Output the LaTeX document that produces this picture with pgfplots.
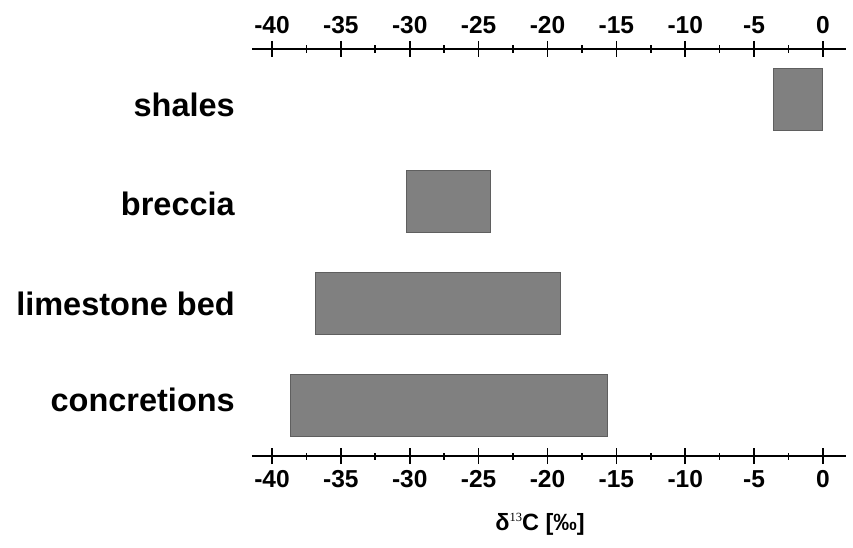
\documentclass[border=0pt]{standalone}
\usepackage{pgfplots}
\pgfplotsset{compat=1.18}
\usepackage{fontspec}
\setmainfont{Liberation Sans}
\newfontfamily\seriffont{Liberation Serif}
\definecolor{barfill}{RGB}{128,128,128}
\definecolor{baredge}{RGB}{95,95,95}
\pgfplotsset{
 common/.style={
  at={(0pt,0pt)}, anchor=south west,
  scale only axis, width=594pt, height=407pt,
  xmin=-41.45, xmax=1.67, ymin=-0.5, ymax=3.5,
  xtick={-40,-35,...,0},
  minor x tick num=1,
  tick align=center,
  major tick length=16pt, minor tick length=7pt,
  every tick/.style={line width=1.6pt, black},
  x axis line style={line width=2.2pt, -},
  /pgf/number format/assume math mode=true,
 }
}
\begin{document}
\begin{tikzpicture}
\useasboundingbox (-252pt,-91pt) rectangle (601pt,456pt);
\begin{axis}[common,
 axis x line*=bottom, axis y line*=left,
 y axis line style={draw=none},
 ytick={0,1,2,3},
 ytick style={draw=none},
 yticklabels={{\raisebox{-6pt}{concretions}},{\raisebox{-12pt}{limestone bed}},{\raisebox{-13.5pt}{breccia}},{\raisebox{-17pt}{shales}}},
 yticklabel style={anchor=base east, inner sep=0pt, xshift=-9pt, font=\fontsize{32.5}{38}\selectfont\bfseries},
 xticklabel style={font=\fontsize{24.5}{28}\selectfont\bfseries, yshift=-3pt},
 xbar stacked, bar width=62pt,
 xlabel={δ\raisebox{8.5pt}{\seriffont\mdseries\fontsize{12.5}{12.5}\selectfont 13}C [‰]},
 xlabel style={at={(axis description cs:0.485,0)}, anchor=base, yshift=-74pt, font=\fontsize{23.5}{27}\selectfont\bfseries},
]
\addplot[draw=none, fill=none] coordinates {(-15.66,0) (-19.04,1) (-24.17,2) (-0.07,3)};
\addplot[fill=barfill, draw=baredge, line width=1pt] coordinates {(-23.03,0) (-17.79,1) (-6.03,2) (-3.49,3)};
\end{axis}
\begin{axis}[common, axis x line*=top, axis y line=none, ytick=\empty,
 xticklabel style={font=\fontsize{24.5}{28}\selectfont\bfseries, yshift=4pt}]
\end{axis}
\end{tikzpicture}
\end{document}
